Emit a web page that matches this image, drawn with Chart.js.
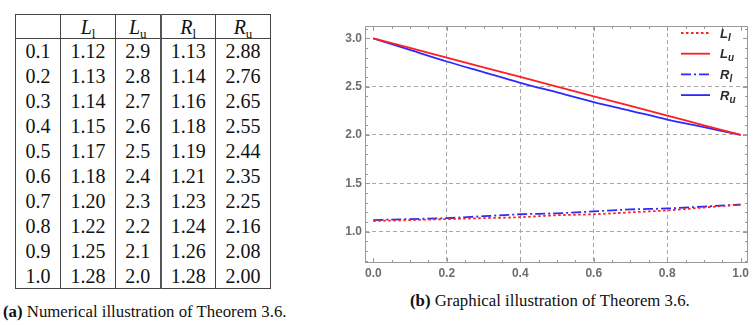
<!DOCTYPE html>
<html>
<head>
<meta charset="utf-8">
<script src="https://cdn.jsdelivr.net/npm/chart.js@4"></script>
<style>
  html, body { margin: 0; padding: 0; background: #fff; }
  body { width: 756px; height: 325px; position: relative; overflow: hidden; }
  #tbl {
    position: absolute; left: 15px; top: 14px;
    border-collapse: collapse; table-layout: fixed; width: 255px;
    font-family: 'Liberation Serif', 'Times New Roman', serif; font-size: 20px; line-height: 1;
    color: #111; border: 1px solid #444;
  }
  #tbl td, #tbl th { padding: 0; text-align: center; font-weight: normal; border-left: 1px solid #444; }
  #tbl th { border-bottom: 1px solid #444; }
  #tbl .dbl { border-left: 2px solid #555; }
  #tbl tr { height: 25px; }
  #tbl tr.hd { height: 24px; }
  #tbl sub { font-size: 13px; font-style: normal; vertical-align: -4px; line-height: 0; }
  .cap {
    position: absolute; font-family: 'Liberation Serif', 'Times New Roman', serif;
    font-size: 16.8px; line-height: 17px; color: #111; white-space: nowrap;
  }
  #capA { left: 3px; top: 303px; }
  #capB { left: 410px; top: 292px; }
  #cv { position: absolute; left: 320px; top: 0; }
</style>
</head>
<body>
<table id="tbl">
  <colgroup><col style="width:45px"><col style="width:55px"><col style="width:45px"><col style="width:55px"><col style="width:55px"></colgroup>
  <tr class="hd"><th></th><th><i>L</i><sub>l</sub></th><th><i>L</i><sub>u</sub></th><th class="dbl"><i>R</i><sub>l</sub></th><th><i>R</i><sub>u</sub></th></tr>
</table>
<div class="cap" id="capA"><b>(a)</b> Numerical illustration of Theorem 3.6.</div>
<div class="cap" id="capB"><b>(b)</b> Graphical illustration of Theorem 3.6.</div>
<canvas id="cv" width="436" height="290"></canvas>
<script>
'use strict';

/* ── Table values ───────────────────────────────────────── */
const alphaRows = ['0.1', '0.2', '0.3', '0.4', '0.5', '0.6', '0.7', '0.8', '0.9', '1.0'];
const tblLl = ['1.12', '1.13', '1.14', '1.15', '1.17', '1.18', '1.20', '1.22', '1.25', '1.28'];
const tblLu = ['2.9', '2.8', '2.7', '2.6', '2.5', '2.4', '2.3', '2.2', '2.1', '2.0'];
const tblRl = ['1.13', '1.14', '1.16', '1.18', '1.19', '1.21', '1.23', '1.24', '1.26', '1.28'];
const tblRu = ['2.88', '2.76', '2.65', '2.55', '2.44', '2.35', '2.25', '2.16', '2.08', '2.00'];

/* ── Plot values (alpha from 0 to 1) ─ */
const plotX = [0, 0.1, 0.2, 0.3, 0.4, 0.5, 0.6, 0.7, 0.8, 0.9, 1.0];
const plotLl = [1.11, 1.12, 1.13, 1.14, 1.15, 1.17, 1.18, 1.20, 1.22, 1.25, 1.28];
const plotLu = [3.0, 2.9, 2.8, 2.7, 2.6, 2.5, 2.4, 2.3, 2.2, 2.1, 2.0];
const plotRl = [1.12, 1.13, 1.14, 1.16, 1.18, 1.19, 1.21, 1.23, 1.24, 1.26, 1.28];
const plotRu = [3.0, 2.88, 2.76, 2.65, 2.54, 2.44, 2.34, 2.25, 2.16, 2.08, 2.00];

const xTicks = [0, 0.2, 0.4, 0.6, 0.8, 1.0];
const yTicks = [1.0, 1.5, 2.0, 2.5, 3.0];
const xGrid = [0.2, 0.4, 0.6, 0.8];
const yGrid = [1.0, 1.5, 2.0, 2.5];
const legendNames = [['L', 'l'], ['L', 'u'], ['R', 'l'], ['R', 'u']];

/* ── Table body ─────────────────────────────────────────── */
const tbl = document.getElementById('tbl');
alphaRows.forEach((a, i) => {
  const tr = document.createElement('tr');
  tr.innerHTML = `<td>${a}</td><td>${tblLl[i]}</td><td>${tblLu[i]}</td>` +
    `<td class="dbl">${tblRl[i]}</td><td>${tblRu[i]}</td>`;
  tbl.appendChild(tr);
});

/* ── Chart ──────────────────────────────────────────────── */
const RED = '#ff1f1f', BLUE = '#2b2bff';
const pts = ys => plotX.map((x, i) => ({ x, y: ys[i] }));
const ds = (label, ys, color, dash) => ({
  label, data: pts(ys), borderColor: color, borderWidth: 1.8, borderDash: dash,
  pointRadius: 0, cubicInterpolationMode: 'monotone', fill: false
});

const near = (arr, v) => arr.some(a => Math.abs(a - v) < 1e-6);
const tickFont = { family: 'Liberation Sans, Arial', size: 12, weight: 'bold' };

const frame = {
  id: 'frame',
  beforeDatasetsDraw(chart) {
    const { ctx, chartArea: a, scales: { x, y } } = chart;
    ctx.save();
    ctx.strokeStyle = '#9a9a9a';
    ctx.lineWidth = 1;
    ctx.strokeRect(a.left + 0.5, a.top + 0.5, a.right - a.left - 1, a.bottom - a.top - 1);
    ctx.beginPath();
    for (let k = 0; k <= 20; k++) {
      const v = k * 0.05, px = Math.round(x.getPixelForValue(v)) + 0.5;
      const len = k % 4 === 0 ? 5 : 3;
      ctx.moveTo(px, a.bottom); ctx.lineTo(px, a.bottom - len);
      ctx.moveTo(px, a.top); ctx.lineTo(px, a.top + len);
    }
    for (let k = 7; k <= 31; k++) {
      const v = k / 10, py = Math.round(y.getPixelForValue(v)) + 0.5;
      const len = k % 5 === 0 ? 5 : 3;
      ctx.moveTo(a.left, py); ctx.lineTo(a.left + len, py);
      ctx.moveTo(a.right, py); ctx.lineTo(a.right - len, py);
    }
    ctx.stroke();
    ctx.restore();
  },
  afterDraw(chart) {
    const { ctx, chartArea: a } = chart;
    ctx.save();
    chart.data.datasets.forEach((d, i) => {
      const yy = a.top + 7 + i * 20.7;
      ctx.beginPath();
      ctx.setLineDash(d.borderDash || []);
      ctx.strokeStyle = d.borderColor;
      ctx.lineWidth = 1.8;
      ctx.moveTo(a.right - 67, yy); ctx.lineTo(a.right - 38, yy);
      ctx.stroke();
      ctx.setLineDash([]);
      const [m, s] = legendNames[i];
      ctx.fillStyle = '#2a2a2a';
      ctx.textBaseline = 'alphabetic';
      ctx.font = 'italic bold 13px Liberation Sans, Arial';
      ctx.fillText(m, a.right - 28, yy + 4.5);
      const w = ctx.measureText(m).width;
      ctx.font = 'italic bold 10px Liberation Sans, Arial';
      ctx.fillText(s, a.right - 28 + w, yy + 7.5);
    });
    ctx.restore();
  }
};

new Chart(document.getElementById('cv'), {
  type: 'line',
  data: {
    datasets: [
      ds('Ll', plotLl, RED, [2.5, 2.5]),
      ds('Lu', plotLu, RED, []),
      ds('Rl', plotRl, BLUE, [10, 3, 2, 3]),
      ds('Ru', plotRu, BLUE, [])
    ]
  },
  options: {
    responsive: false,
    animation: false,
    layout: { padding: { top: 26, right: 8, left: 0, bottom: 0 } },
    plugins: { legend: { display: false }, tooltip: { enabled: false } },
    scales: {
      x: {
        type: 'linear', min: -0.0226, max: 1.0199,
        afterBuildTicks: s => { s.ticks = xTicks.map(v => ({ value: v })); },
        afterFit: s => { s.height = 27; s.paddingLeft = 0; s.paddingRight = 0; },
        ticks: { font: tickFont, color: '#6e6e6e', padding: 3, maxRotation: 0, callback: v => v.toFixed(1) },
        grid: {
          drawTicks: false, lineWidth: 1,
          color: c => (c.tick && near(xGrid, c.tick.value)) ? '#a8a8a8' : 'rgba(0,0,0,0)'
        },
        border: { display: false, dash: [4, 3] }
      },
      y: {
        type: 'linear', min: 0.676, max: 3.127,
        afterBuildTicks: s => { s.ticks = yTicks.map(v => ({ value: v })); },
        afterFit: s => { s.width = 45; },
        ticks: { font: tickFont, color: '#6e6e6e', padding: 3, callback: v => v.toFixed(1) },
        grid: {
          drawTicks: false, lineWidth: 1,
          color: c => (c.tick && near(yGrid, c.tick.value)) ? '#a8a8a8' : 'rgba(0,0,0,0)'
        },
        border: { display: false, dash: [4, 3] }
      }
    }
  },
  plugins: [frame]
});
</script>
</body>
</html>
